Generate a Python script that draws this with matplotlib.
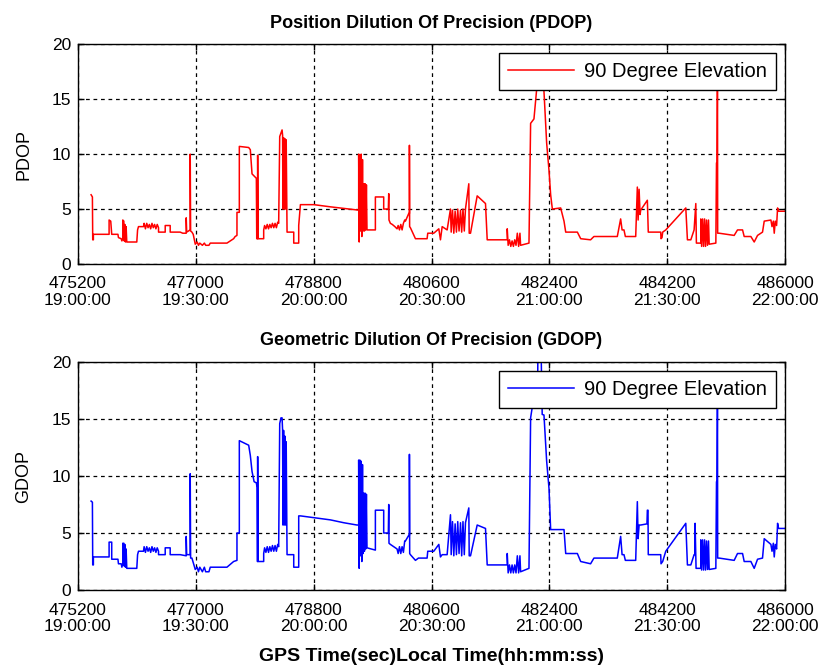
import matplotlib
matplotlib.use("Agg")
import matplotlib.pyplot as plt
import logging

logging.getLogger("matplotlib.font_manager").setLevel(logging.ERROR)

# GPS time (s) / local time tick labels
gps_ticks = [475200, 477000, 478800, 480600, 482400, 484200, 486000]
local_ticks = ["19:00:00", "19:30:00", "20:00:00", "20:30:00", "21:00:00", "21:30:00", "22:00:00"]
y_ticks = [0, 5, 10, 15, 20]

# PDOP: (gps time, value)
pdop_points = [
    (475400, 6.3), (475420, 6.1), (475425, 2.2), (475435, 2.2), (475435, 2.7), (475675, 2.7), (475675, 4.0),
    (475700, 3.9), (475715, 2.7), (475810, 2.7), (475818, 2.4), (475860, 2.3), (475870, 2.1), (475884, 2.3),
    (475884, 4.0), (475900, 3.9), (475905, 2.1), (475915, 3.6), (475925, 2.0), (475935, 3.4), (475945, 2.0),
    (476098, 2.0), (476110, 3.1), (476124, 3.4), (476200, 3.4), (476210, 3.7), (476230, 3.2), (476250, 3.7),
    (476270, 3.3), (476290, 3.6), (476310, 3.2), (476330, 3.7), (476350, 3.3), (476370, 3.6), (476390, 3.2),
    (476410, 3.6), (476430, 3.3), (476430, 2.9), (476532, 2.9), (476532, 3.5), (476608, 3.5), (476608, 2.9),
    (476761, 2.9), (476800, 2.8), (476853, 2.8), (476853, 4.2), (476860, 2.9), (476914, 3.1), (476914, 10.0),
    (476920, 3.0), (476940, 2.9), (476960, 2.7), (476991, 1.8), (477020, 2.0), (477040, 1.7), (477060, 1.9),
    (477100, 1.7), (477130, 1.9), (477150, 1.7), (477200, 1.7), (477220, 1.9), (477475, 1.9), (477577, 2.3),
    (477600, 2.5), (477628, 2.6), (477628, 4.7), (477664, 4.7), (477664, 10.7), (477807, 10.6), (477832, 10.4),
    (477858, 8.2), (477924, 7.8), (477930, 2.3), (477944, 2.3), (477944, 9.9), (477948, 2.3), (478036, 2.3),
    (478036, 3.1), (478050, 3.5), (478070, 3.2), (478090, 3.6), (478110, 3.2), (478130, 3.6), (478150, 3.3),
    (478170, 3.7), (478190, 3.3), (478210, 3.7), (478230, 3.3), (478250, 3.8), (478265, 3.7), (478281, 11.6),
    (478317, 12.2), (478325, 11.7), (478330, 5.0), (478340, 11.5), (478350, 5.0), (478360, 11.4), (478370, 5.0),
    (478380, 11.3), (478390, 5.0), (478393, 2.9), (478495, 2.9), (478495, 1.9), (478571, 1.9), (478571, 3.5),
    (478597, 5.4), (478801, 5.4), (479056, 5.2),
    (479334, 5.0), (479461, 4.9), (479487, 4.9), (479487, 10.0), (479495, 2.0), (479505, 9.9), (479515, 3.0),
    (479525, 10.0), (479535, 2.5), (479545, 9.5), (479555, 3.0), (479565, 7.3), (479575, 3.0), (479585, 7.3),
    (479595, 3.1), (479605, 7.2), (479614, 3.1), (479742, 3.1), (479742, 6.1), (479869, 6.1), (479869, 5.0),
    (479940, 5.0), (479946, 6.4), (479950, 4.0), (479971, 3.7), (480000, 3.6), (480040, 3.4), (480073, 3.2),
    (480090, 3.5), (480110, 3.1), (480130, 3.6), (480150, 3.1), (480170, 3.7), (480190, 4.0), (480201, 3.9),
    (480252, 4.6), (480262, 4.6), (480262, 10.8), (480265, 3.4), (480277, 3.3), (480354, 2.3), (480532, 2.3),
    (480542, 2.8), (480634, 2.8), (480711, 3.2), (480736, 2.2), (480762, 3.4), (480838, 3.1), (480889, 5.0),
    (480900, 2.9), (480920, 4.9), (480940, 2.8), (480960, 4.8), (480980, 2.9), (481000, 5.0), (481020, 3.0),
    (481042, 4.9), (481060, 2.9), (481080, 5.0), (481100, 3.0), (481118, 5.0), (481169, 7.3), (481175, 2.8),
    (481195, 2.8), (481297, 6.2), (481424, 5.5), (481450, 2.2), (481756, 2.2), (481756, 3.2), (481770, 1.7),
    (481790, 2.2), (481810, 1.6), (481830, 2.1), (481850, 1.6), (481870, 2.2), (481890, 1.7), (481910, 2.8),
    (481930, 1.6), (481950, 2.8), (481960, 1.7), (482088, 1.9), (482113, 12.8), (482164, 13.2), (482230, 17.5),
    (482280, 17.5), (482317, 15.7), (482358, 11.0), (482394, 8.5), (482419, 6.3), (482445, 5.0), (482572, 5.1),
    (482623, 3.9), (482649, 2.9), (482827, 2.9), (482878, 2.3),
    (483029, 2.2), (483080, 2.5), (483437, 2.5), (483488, 4.1), (483510, 3.1), (483539, 3.1), (483560, 2.5),
    (483718, 2.5), (483743, 7.0), (483755, 4.0), (483770, 6.8), (483785, 4.5), (483794, 4.9), (483896, 5.8),
    (483910, 2.9), (484100, 2.9), (484105, 2.3), (484120, 2.4), (484130, 2.9), (484177, 3.1), (484483, 5.1),
    (484508, 2.2), (484560, 2.2), (484610, 3.1), (484636, 5.5), (484645, 1.9), (484712, 1.9), (484712, 4.1),
    (484725, 1.6), (484740, 4.1), (484755, 1.6), (484770, 4.1), (484785, 1.6), (484800, 4.0), (484815, 1.7),
    (484830, 4.0), (484840, 1.8), (484942, 1.9), (484952, 9.2), (484960, 9.2), (484967, 18.5), (484970, 2.8),
    (484993, 2.8), (485222, 2.6), (485273, 3.1), (485350, 3.1), (485375, 2.5), (485477, 2.5), (485528, 2.0),
    (485579, 2.6), (485655, 2.9), (485681, 3.9), (485783, 4.0), (485800, 3.4), (485820, 3.9), (485834, 2.8),
    (485850, 3.9), (485870, 3.5), (485885, 5.1), (485900, 4.8), (486000, 4.8),
]

# GDOP: (gps time, value)
gdop_points = [
    (475400, 7.8), (475420, 7.7), (475425, 2.2), (475435, 2.2), (475435, 2.9), (475675, 2.9), (475675, 4.2),
    (475715, 4.2), (475715, 2.7), (475810, 2.7), (475818, 2.3), (475860, 2.3), (475870, 2.0), (475884, 2.3),
    (475884, 4.1), (475900, 4.1), (475905, 2.1), (475915, 4.0), (475925, 2.0), (475935, 3.6), (475945, 1.9),
    (476098, 1.9), (476110, 3.1), (476124, 3.4), (476200, 3.4), (476210, 3.8), (476230, 3.3), (476250, 3.8),
    (476270, 3.4), (476290, 3.7), (476310, 3.3), (476330, 3.8), (476350, 3.4), (476370, 3.7), (476390, 3.3),
    (476410, 3.7), (476430, 3.4), (476430, 3.1), (476532, 3.1), (476532, 3.7), (476608, 3.7), (476608, 3.1),
    (476761, 3.1), (476853, 3.0), (476853, 4.7), (476860, 3.1), (476914, 3.1), (476914, 10.2), (476920, 2.8),
    (476940, 2.8), (476991, 1.8), (477020, 2.0), (477040, 1.6), (477060, 2.0), (477100, 1.6), (477130, 2.0),
    (477150, 1.6), (477200, 1.6), (477220, 2.0), (477475, 2.0), (477577, 2.5), (477628, 2.6), (477628, 5.0),
    (477664, 5.0), (477664, 13.1), (477807, 12.7), (477832, 11.8), (477858, 10.4), (477890, 9.5), (477924, 9.4),
    (477935, 9.0), (477940, 2.5), (477944, 2.5), (477944, 11.7), (477950, 2.5), (478036, 2.5), (478036, 3.2),
    (478050, 3.7), (478070, 3.3), (478090, 3.8), (478110, 3.3), (478130, 3.8), (478150, 3.4), (478170, 3.9),
    (478190, 3.4), (478210, 3.9), (478230, 3.4), (478250, 4.0), (478265, 3.8), (478281, 14.6), (478300, 15.1),
    (478317, 15.1), (478325, 14.0), (478330, 5.7), (478340, 14.0), (478350, 5.7), (478360, 13.5), (478370, 5.7),
    (478380, 13.0), (478390, 5.7), (478393, 3.1), (478495, 3.1), (478495, 2.0), (478571, 2.0), (478571, 6.5),
    (478600, 6.5), (478801, 6.35), (479056, 6.15),
    (479260, 5.9), (479461, 5.7), (479487, 5.7), (479487, 11.4), (479495, 1.9), (479505, 11.4), (479515, 3.0),
    (479525, 11.3), (479535, 2.5), (479545, 11.0), (479555, 3.2), (479565, 8.5), (479575, 3.4), (479585, 8.5),
    (479595, 3.6), (479605, 8.4), (479614, 3.7), (479742, 3.5), (479742, 7.0), (479869, 7.0), (479869, 5.0),
    (479940, 5.0), (479946, 7.5), (479950, 4.1), (479971, 4.0), (480073, 3.6), (480090, 3.2), (480110, 3.8),
    (480130, 3.2), (480150, 3.8), (480170, 3.3), (480190, 4.3), (480201, 4.3), (480252, 4.8), (480262, 4.8),
    (480262, 11.9), (480266, 3.2), (480277, 3.1), (480354, 2.6), (480400, 2.8), (480532, 2.8), (480542, 3.4),
    (480634, 3.4), (480711, 4.0), (480736, 2.9), (480762, 3.1), (480838, 3.1), (480889, 6.6), (480900, 3.1),
    (480920, 6.0), (480940, 3.0), (480960, 5.8), (480980, 3.1), (481000, 6.0), (481020, 3.2), (481042, 5.9),
    (481060, 3.0), (481080, 6.0), (481100, 3.1), (481118, 5.9), (481169, 7.2), (481175, 3.0), (481195, 3.0),
    (481297, 5.7), (481424, 5.4), (481450, 2.2), (481756, 2.2), (481756, 3.2), (481770, 1.5), (481790, 2.2),
    (481810, 1.5), (481830, 2.2), (481850, 1.5), (481870, 2.2), (481890, 1.5), (481910, 3.0), (481930, 1.5),
    (481950, 3.0), (481960, 1.6), (482088, 1.9), (482113, 15.1), (482150, 16.5), (482210, 19.1), (482222, 19.1),
    (482225, 22.0), (482270, 22.0), (482290, 15.4), (482317, 15.35), (482358, 11.3), (482394, 8.9), (482419, 5.3),
    (482623, 5.3), (482649, 3.2), (482827, 3.2), (482878, 2.5),
    (483029, 2.3), (483080, 2.8), (483437, 2.8), (483488, 4.7), (483510, 3.1), (483539, 3.1), (483560, 2.6),
    (483718, 2.6), (483743, 7.75), (483755, 4.5), (483770, 5.7), (483794, 5.7), (483890, 5.8), (483896, 7.0),
    (483906, 7.0), (483910, 3.1), (484100, 3.1), (484105, 2.3), (484130, 2.5), (484177, 3.4), (484483, 5.85),
    (484508, 2.2), (484560, 2.2), (484610, 3.1), (484620, 3.1), (484625, 5.85), (484640, 1.9), (484712, 1.9),
    (484712, 4.4), (484725, 1.75), (484740, 4.4), (484755, 1.75), (484770, 4.4), (484785, 1.75), (484800, 4.3),
    (484815, 1.8), (484830, 4.3), (484840, 1.8), (484942, 1.9), (484952, 9.5), (484960, 9.5), (484967, 18.0),
    (484970, 2.8), (484993, 2.8), (485222, 2.6), (485273, 3.2), (485350, 3.2), (485375, 2.5), (485477, 2.5),
    (485528, 1.9), (485579, 2.7), (485655, 2.8), (485681, 4.5), (485783, 4.0), (485800, 3.4), (485820, 4.1),
    (485834, 2.9), (485850, 4.0), (485870, 3.6), (485885, 5.85), (485900, 5.4), (486000, 5.4),
]

font = ["Liberation Sans", "DejaVu Sans"]


def draw_panel(ax, points, color, title, ylabel):
    t = [p[0] for p in points]
    v = [p[1] for p in points]
    ax.plot(t, v, color=color, lw=1.1, label="90 Degree Elevation")
    ax.set_xlim(gps_ticks[0], gps_ticks[-1])
    ax.set_ylim(0, 20)
    ax.set_xticks(gps_ticks)
    ax.set_xticklabels([f"{g}\n{l}" for g, l in zip(gps_ticks, local_ticks)],
                       family=font, fontsize=12.5, linespacing=1.1)
    ax.set_yticks(y_ticks)
    ax.set_yticklabels([str(y) for y in y_ticks], family=font, fontsize=12.5)
    ax.tick_params(direction="in", top=True, right=True, length=4, width=1)
    ax.tick_params(axis="x", pad=9)
    ax.tick_params(axis="y", pad=5)
    ax.grid(True, color="black", linestyle=(0, (3, 3)), linewidth=0.9)
    for s in ax.spines.values():
        s.set_linewidth(1.0)
    ax.set_title(title, family=font, fontweight="bold", fontsize=13, pad=12)
    ax.set_ylabel(ylabel, family=font, fontsize=13, labelpad=14)
    leg = ax.legend(loc="upper right", prop={"family": font, "size": 14.5},
                    fancybox=False, framealpha=1, edgecolor="black",
                    handlelength=3.3, handletextpad=0.5, borderaxespad=0.45,
                    borderpad=0.45)
    leg.get_frame().set_linewidth(1.0)


fig = plt.figure(figsize=(8.28, 6.70), dpi=100)
ax1 = fig.add_axes([0.0942, 0.606, 0.854, 0.328])
ax2 = fig.add_axes([0.0942, 0.1194, 0.854, 0.3403])

draw_panel(ax1, pdop_points, "red", "Position Dilution Of Precision (PDOP)", "PDOP")
draw_panel(ax2, gdop_points, "blue", "Geometric Dilution Of Precision (GDOP)", "GDOP")
ax2.set_xlabel("GPS Time(sec)Local Time(hh:mm:ss)", family=font, fontweight="bold",
               fontsize=14, labelpad=10)

fig.savefig("out.png", dpi=100)
